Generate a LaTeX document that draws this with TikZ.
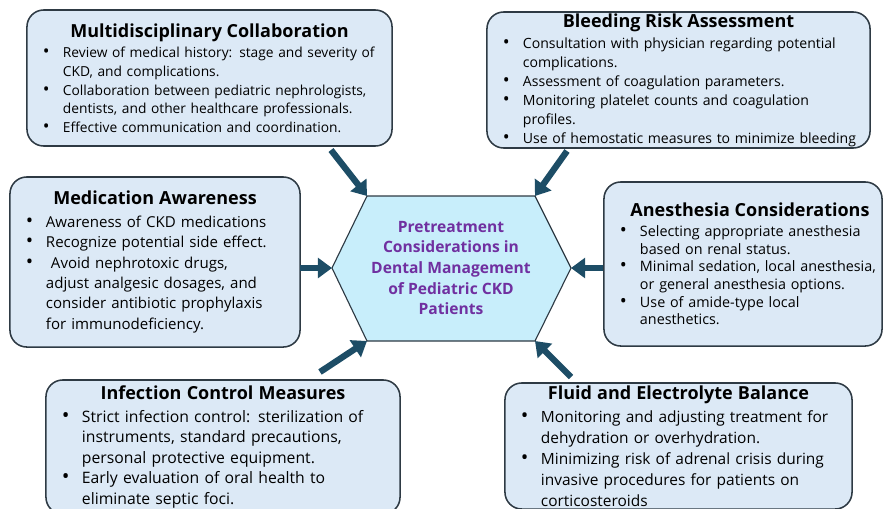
\documentclass[tikz,border=0pt]{standalone}
\usepackage{fontspec}
\setmainfont{Open Sans}
\usepackage{tikz}
\usetikzlibrary{arrows.meta, positioning}
\usepackage{xcolor}

\definecolor{boxfill}{HTML}{DCE9F6}
\definecolor{boxline}{HTML}{2E3A44}
\definecolor{hubfill}{HTML}{C8EEFB}
\definecolor{hubtext}{HTML}{7030A0}
\definecolor{arrowcol}{HTML}{1D4D66}

\newcommand{\boxtitle}[1]{{\centering\fontsize{12.8}{15}\selectfont\bfseries #1\par}\vspace{1.5pt}}
\newcommand{\bitem}{\par\hangindent=0.75cm\hangafter=1\noindent\hspace*{0.25cm}\makebox[0.5cm][l]{\scalebox{1.3}{\textbullet}}}
\hfuzz=20pt

\begin{document}
\begin{tikzpicture}[
        x=0.025cm, y=-0.025cm,
        infobox/.style={draw=boxline, line width=1.1pt, fill=boxfill, rounded corners=0.42cm,
          inner xsep=0.15cm, inner ysep=0pt, align=left},
        hubtxt/.style={align=center, text=hubtext, font=\fontsize{11.1}{14.7}\selectfont\bfseries},
        pointer/.style={draw=arrowcol, line width=4.5pt, -{Triangle[length=10pt, width=14pt]}}
      ]
        \useasboundingbox (0,0) rectangle (883,508);

        % Central hexagon
        \coordinate (hex-w)  at (332,268);
        \coordinate (hex-nw) at (367,196);
        \coordinate (hex-ne) at (535,196);
        \coordinate (hex-e)  at (571,268);
        \coordinate (hex-se) at (535,341);
        \coordinate (hex-sw) at (367,341);
        \filldraw[draw=boxline, line width=0.8pt, fill=hubfill]
          (hex-w) -- (hex-nw) -- (hex-ne) -- (hex-e) -- (hex-se) -- (hex-sw) -- cycle;
        \node[hubtxt] (hub) at (451,268) {Pretreatment\\ Considerations in\\ Dental Management\\ of Pediatric CKD\\ Patients};

        % Top row
        \node[infobox, minimum width=9.125cm, minimum height=3.4cm, text width=8.825cm,
          font=\fontsize{9.8}{13.2}\selectfont] (collab) at (209.5,78) {%
          \boxtitle{Multidisciplinary Collaboration}
          \bitem Review of medical history: stage and severity of\newline CKD, and complications.
          \bitem Collaboration between pediatric nephrologists,\newline dentists, and other healthcare professionals.
          \bitem Effective communication and coordination.\par};
        \node[infobox, minimum width=9.575cm, minimum height=3.4cm, text width=9.275cm,
          font=\fontsize{10}{13.5}\selectfont] (bleed) at (678.5,80) {%
          \boxtitle{Bleeding Risk Assessment}
          \bitem Consultation with physician regarding potential\newline complications.
          \bitem Assessment of coagulation parameters.
          \bitem Monitoring platelet counts and coagulation\newline profiles.
          \bitem Use of hemostatic measures to minimize bleeding\par};

        % Middle row
        \node[infobox, minimum width=7.25cm, minimum height=4.25cm, text width=6.95cm,
          font=\fontsize{10.7}{14.5}\selectfont] (meds) at (155,262) {%
          \boxtitle{Medication Awareness}
          \bitem Awareness of CKD medications
          \bitem Recognize potential side effect.
          \bitem \ Avoid nephrotoxic drugs,\newline adjust analgesic dosages, and\newline consider antibiotic prophylaxis\newline for immunodeficiency.\par};
        \node[infobox, minimum width=6.95cm, minimum height=4.1cm, text width=6.65cm,
          font=\fontsize{10.2}{12.6}\selectfont] (anest) at (743,264) {%
          \boxtitle{\hspace*{0.35cm}Anesthesia Considerations}
          \bitem Selecting appropriate anesthesia\newline based on renal status.
          \bitem \mbox{Minimal sedation, local anesthesia,}\newline or general anesthesia options.
          \bitem Use of amide-type local\newline anesthetics.\par};

        % Bottom row
        \node[infobox, minimum width=8.85cm, minimum height=3.35cm, text width=8.55cm,
          font=\fontsize{11.2}{14.6}\selectfont] (infect) at (223,447) {%
          \boxtitle{Infection Control Measures}
          \bitem Strict infection control: sterilization of\newline instruments, standard precautions,\newline personal protective equipment.
          \bitem Early evaluation of oral health to\newline eliminate septic foci.\par};
        \node[infobox, minimum width=8.675cm, minimum height=3.15cm, text width=8.375cm,
          font=\fontsize{11}{14.9}\selectfont] (fluid) at (678.5,446) {%
          \boxtitle{Fluid and Electrolyte Balance}
          \bitem Monitoring and adjusting treatment for\newline dehydration or overhydration.
          \bitem Minimizing risk of adrenal crisis during\newline invasive procedures for patients on\newline corticosteroids\par};

        % Arrows into the hexagon
        \coordinate (t-collab) at (331,150);
        \coordinate (t-bleed)  at (567,151);
        \coordinate (t-meds)   at (300,268);
        \coordinate (t-anest)  at (603,268);
        \coordinate (t-infect) at (320,372);
        \coordinate (t-fluid)  at (571,377);
        \draw[pointer] (t-collab) -- (hex-nw);
        \draw[pointer] (t-bleed) -- (hex-ne);
        \draw[pointer] (t-meds) -- (hex-w);
        \draw[pointer] (t-anest) -- (hex-e);
        \draw[pointer] (t-infect) -- (hex-sw);
        \draw[pointer] (t-fluid) -- (hex-se);
      \end{tikzpicture}
\end{document}
